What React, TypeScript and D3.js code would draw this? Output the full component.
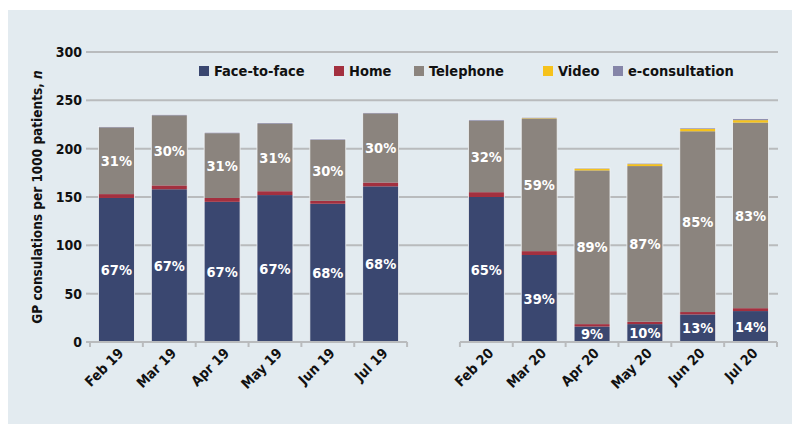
import React from "react";
import * as d3 from "d3";

const months = ["Feb 19", "Mar 19", "Apr 19", "May 19", "Jun 19", "Jul 19", "", "Feb 20", "Mar 20", "Apr 20", "May 20", "Jun 20", "Jul 20"];
const seriesNames = ["Face-to-face", "Home", "Telephone", "Video", "e-consultation"];
const seriesColors = ["#3a4770", "#a3303f", "#8b847e", "#f6c21c", "#8585a8"];
const faceToFace = [149, 158, 145, 152, 143, 161, null, 150, 90, 16, 18.5, 28.5, 32];
const home = [4, 4, 4, 4, 3, 4, null, 5, 4, 2.5, 2.5, 2.5, 3];
const telephone = [69, 72.5, 67, 70, 63, 71.5, null, 74, 137, 159, 161, 187, 192];
const video = [0, 0, 0, 0, 0, 0, null, 0, 0.5, 2, 2, 2.5, 2.5];
const eConsultation = [1, 1, 1, 1, 1, 1, null, 1, 1, 0.5, 1, 1, 1.5];
const faceLabels = ["67%", "67%", "67%", "67%", "68%", "68%", "", "65%", "39%", "9%", "10%", "13%", "14%"];
const phoneLabels = ["31%", "30%", "31%", "31%", "30%", "30%", "", "32%", "59%", "89%", "87%", "85%", "83%"];
const yTicks = [0, 50, 100, 150, 200, 250, 300];

const FONT = "'DejaVu Sans Condensed', 'Liberation Sans Narrow', 'Roboto', sans-serif";

export default function App() {
  const W = 800, H = 432;
  const x = d3.scaleBand<string>().domain(months.map((m, i) => i + "")).range([90, 777]).paddingInner(0.32).paddingOuter(0.16);
  const y = d3.scaleLinear().domain([0, 300]).range([342, 52]);
  const step = x.step();

  const rows = months.map((m, i) => ({
    key: i + "",
    month: m,
    "Face-to-face": faceToFace[i] ?? 0,
    Home: home[i] ?? 0,
    Telephone: telephone[i] ?? 0,
    Video: video[i] ?? 0,
    "e-consultation": eConsultation[i] ?? 0,
  }));
  const stack = d3.stack<any>().keys(seriesNames)(rows);

  const legendX = [199, 334, 414, 543, 613];

  return (
    <svg width={W} height={H} style={{ position: "fixed", left: 0, top: 0, background: "#fff" }} fontFamily={FONT}>
      <rect x={8} y={10} width={784} height={414} fill="#e3ebf0" />
      {yTicks.filter(t => t > 0).map(t => (
        <line key={t} x1={90} x2={778} y1={y(t)} y2={y(t)} stroke="#b9bbbd" strokeWidth={2} />
      ))}
      {yTicks.map(t => (
        <g key={"l" + t}>
          <line x1={86} x2={90} y1={y(t)} y2={y(t)} stroke="#b9bbbd" strokeWidth={2} />
          <text x={82} y={y(t)} dy="0.35em" textAnchor="end" fontSize={14} fontWeight="bold" fill="#111">{t}</text>
        </g>
      ))}
      <text transform={`translate(42,${y(150)}) rotate(-90)`} textAnchor="middle" fontSize={13.5} fontWeight="bold" fill="#111">
        GP consulations per 1000 patients, <tspan fontStyle="italic">n</tspan>
      </text>
      {stack.map((s, si) => (
        <g key={s.key} fill={seriesColors[si]}>
          {s.map((d, i) => months[i] === "" ? null : (
            <rect key={i} x={x(i + "")!} width={x.bandwidth()} y={y(d[1])} height={Math.max(0, y(d[0]) - y(d[1]))} />
          ))}
        </g>
      ))}
      {rows.map((r, i) => r.month === "" ? null : (
        <rect key={"o" + i} x={x(i + "")!} width={x.bandwidth()} y={y(stack[4][i][1])} height={y(0) - y(stack[4][i][1])} fill="none" stroke="#f2f5f7" strokeWidth={0.8} />
      ))}
      {rows.map((r, i) => r.month === "" ? null : (
        <g key={"t" + i} fontSize={14.5} fontWeight="bold" fill="#fff" textAnchor="middle">
          <text x={x(i + "")! + x.bandwidth() / 2} y={(y(stack[0][i][0]) + y(stack[0][i][1])) / 2} dy="0.36em">{faceLabels[i]}</text>
          <text x={x(i + "")! + x.bandwidth() / 2} y={(y(stack[2][i][0]) + y(stack[2][i][1])) / 2} dy="0.36em">{phoneLabels[i]}</text>
        </g>
      ))}
      {[[0, 6], [7, 13]].map(([a, b]) => (
        <g key={"ax" + a}>
          <line x1={90 + a * step} x2={90 + b * step} y1={y(0)} y2={y(0)} stroke="#b9bbbd" strokeWidth={2} />
          {d3.range(a, b + 1).map(k => (
            <line key={k} x1={90 + k * step} x2={90 + k * step} y1={y(0)} y2={y(0) + 5} stroke="#b9bbbd" strokeWidth={2} />
          ))}
        </g>
      ))}
      {rows.map((r, i) => r.month === "" ? null : (
        <text key={"x" + i} transform={`translate(${x(i + "")! + x.bandwidth() / 2 + 8},${y(0) + 12}) rotate(-45)`} textAnchor="end" fontSize={14} fontWeight="bold" fill="#111">{r.month}</text>
      ))}
      {seriesNames.map((n, i) => (
        <g key={n} transform={`translate(${legendX[i]},71)`}>
          <rect x={0} y={-5} width={10} height={10} fill={seriesColors[i]} />
          <text x={15} y={0} dy="0.36em" fontSize={14.5} fontWeight="bold" fill="#111">{n}</text>
        </g>
      ))}
    </svg>
  );
}
